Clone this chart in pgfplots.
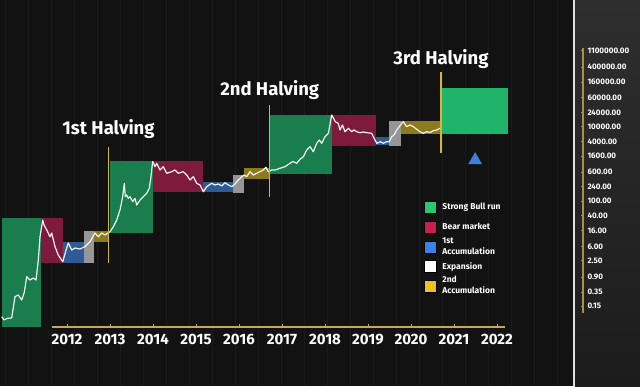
\documentclass[border=0pt]{standalone}
\usepackage{fontspec}
\setmainfont{Fira Sans}
\usepackage{pgfplots}
\usepackage{pgfplotstable}
\pgfplotsset{compat=1.18}

\definecolor{bgcol}{HTML}{121212}
\definecolor{gridcol}{HTML}{1B1B1B}
\definecolor{bullG}{HTML}{197D4E}
\definecolor{bullB}{HTML}{20B46B}
\definecolor{bearR}{HTML}{7E1A3B}
\definecolor{accB}{HTML}{2E5A96}
\definecolor{expG}{HTML}{969696}
\definecolor{accY}{HTML}{8C7A1C}
\definecolor{halv}{HTML}{D4B43A}
\definecolor{axcol}{HTML}{C9A94A}
\definecolor{tri}{HTML}{3E7FE0}
\definecolor{legG}{HTML}{27C86E}
\definecolor{legR}{HTML}{C81E50}
\definecolor{legB}{HTML}{3C82E6}
\definecolor{legW}{HTML}{FFFFFF}
\definecolor{legY}{HTML}{F0BE1E}
\definecolor{panTop}{HTML}{2E2E2E}
\definecolor{panBot}{HTML}{1C1C1C}

\pgfplotstableread{
x y
2010.521 0.077
2010.573 0.063
2010.66 0.07
2010.746 0.071
2010.82 0.265
2010.894 0.295
2010.971 0.216
2011.03 0.35
2011.083 0.92
2011.157 0.746
2011.231 0.845
2011.292 0.746
2011.344 2.58
2011.382 10.9
2011.443 30.8
2011.472 22.6
2011.533 16.6
2011.607 10.9
2011.645 13.8
2011.719 5.9
2011.793 3.5
2011.892 2.32
2011.982 5.43
2012.018 7.4
2012.094 4.8
2012.169 5.43
2012.281 5.1
2012.393 5.9
2012.506 8.0
2012.618 13.8
2012.692 10.9
2012.769 13.8
2012.843 12.2
2012.917 13.8
2012.955 14.9
2013.03 20.3
2013.106 30.8
2013.18 57.3
2013.24 131
2013.276 299
2013.3 131
2013.33 145
2013.366 118
2013.404 131
2013.465 96
2013.517 118
2013.555 78
2013.63 106
2013.703 131
2013.78 161
2013.838 220
2013.876 451
2013.9 838
2013.915 1157
2013.966 838
2014.004 1035
2014.079 682
2014.153 838
2014.229 557
2014.342 615
2014.416 682
2014.49 557
2014.602 615
2014.679 501
2014.753 367
2014.827 451
2014.903 299
2014.978 270
2015.052 178
2015.128 243
2015.24 299
2015.315 270
2015.39 287
2015.465 254
2015.54 311
2015.613 270
2015.69 243
2015.764 287
2015.838 367
2015.915 451
2015.966 501
2016.027 451
2016.10 615
2016.175 501
2016.25 557
2016.326 615
2016.4 682
2016.46 807
2016.51 615
2016.589 682
2016.663 682
2016.775 759
2016.888 838
2017.0 1035
2017.07 1157
2017.15 1035
2017.225 1325
2017.3 1557
2017.375 2360
2017.45 2900
2017.524 2120
2017.6 3570
2017.658 4390
2017.712 3570
2017.787 5380
2017.861 6640
2017.883 9050
2017.915 15100
2017.937 20650
2018.017 13650
2018.085 12300
2018.124 8150
2018.18 11100
2018.236 7330
2018.31 9050
2018.386 7330
2018.44 8200
2018.499 7330
2018.573 6890
2018.65 7200
2018.724 6890
2018.836 6640
2018.91 4390
2018.95 3570
2019.03 3950
2019.10 3570
2019.17 3950
2019.23 3950
2019.285 5380
2019.337 5980
2019.398 8150
2019.456 10000
2019.51 12300
2019.546 13650
2019.62 10000
2019.697 11100
2019.77 10000
2019.85 8500
2019.92 7330
2019.996 6640
2020.07 7330
2020.15 7000
2020.22 7800
2020.297 8150
2020.37 9050
2020.39 9000
}\price

\begin{document}
\begin{tikzpicture}
\useasboundingbox (0,0) rectangle (640pt,386pt);
\fill[bgcol] (0,0) rectangle (640pt,386pt);

\begin{axis}[
  at={(0,0)}, anchor=south west, scale only axis,
  width=640pt, height=386pt,
  xmin=2010.483, xmax=2024.865,
  ymode=log, ymin=1.047e-3, ymax=2.574e7,
  axis line style={draw=none},
  xtick={2010.609,2011.126,...,2024.5},
  xticklabels={}, ytick=\empty,
  major tick length=0pt,
  xmajorgrids, grid style={draw=gridcol, line width=0.6pt},
  legend style={at={(0.6625,0.4878)}, anchor=north west, draw=none, fill=none,
    inner sep=0pt, outer sep=0pt, row sep=0pt, column sep=6pt,
    nodes={inner sep=0pt, minimum height=19.6pt, text=white,
      font=\fontsize{8.5}{11}\selectfont\bfseries, align=left}},
  legend cell align=left,
  legend image code/.code={\fill[#1] (0pt,-6pt) rectangle (12pt,6pt);},
]
% boxes
\addplot[fill=bullG, draw=none, forget plot] coordinates {(2010.528,0.0406) (2011.404,0.0406) (2011.404,34.8) (2010.528,34.8)} -- cycle;
\addplot[fill=bearR, draw=none, forget plot] coordinates {(2011.404,2.14) (2011.899,2.14) (2011.899,34.8) (2011.404,34.8)} -- cycle;
\addplot[fill=accB, draw=none, forget plot] coordinates {(2011.899,2.14) (2012.371,2.14) (2012.371,7.87) (2011.899,7.87)} -- cycle;
\addplot[fill=expG, draw=none, forget plot] coordinates {(2012.371,2.14) (2012.596,2.14) (2012.596,15.6) (2012.371,15.6)} -- cycle;
\addplot[fill=accY, draw=none, forget plot] coordinates {(2012.596,7.87) (2012.933,7.87) (2012.933,15.6) (2012.596,15.6)} -- cycle;
\addplot[fill=bullG, draw=none, forget plot] coordinates {(2012.955,13.8) (2013.910,13.8) (2013.910,1157) (2012.955,1157)} -- cycle;
\addplot[fill=bearR, draw=none, forget plot] coordinates {(2013.910,171) (2015.052,171) (2015.052,1157) (2013.910,1157)} -- cycle;
\addplot[fill=accB, draw=none, forget plot] coordinates {(2015.052,171) (2015.712,171) (2015.712,331) (2015.052,331)} -- cycle;
\addplot[fill=expG, draw=none, forget plot] coordinates {(2015.712,169) (2015.966,169) (2015.966,501) (2015.712,501)} -- cycle;
\addplot[fill=accY, draw=none, forget plot] coordinates {(2015.966,384) (2016.539,384) (2016.539,759) (2015.966,759)} -- cycle;
\addplot[fill=bullG, draw=none, forget plot] coordinates {(2016.551,533) (2017.937,533) (2017.937,20650) (2016.551,20650)} -- cycle;
\addplot[fill=bearR, draw=none, forget plot] coordinates {(2017.937,3080) (2018.933,3080) (2018.933,20650) (2017.937,20650)} -- cycle;
\addplot[fill=accB, draw=none, forget plot] coordinates {(2018.933,3210) (2019.231,3210) (2019.231,5380) (2018.933,5380)} -- cycle;
\addplot[fill=expG, draw=none, forget plot] coordinates {(2019.231,3080) (2019.488,3080) (2019.488,14220) (2019.231,14220)} -- cycle;
\addplot[fill=accY, draw=none, forget plot] coordinates {(2019.488,6240) (2020.393,6240) (2020.393,14220) (2019.488,14220)} -- cycle;
\addplot[fill=bullB, draw=none, forget plot] coordinates {(2020.393,6240) (2021.906,6240) (2021.906,110200) (2020.393,110200)} -- cycle;
% price
\addplot[color=white!95!black, line width=1.2pt, line join=round, forget plot] table[x=x, y=y] {\price};
% halving lines
\addplot[halv, line width=1.5pt, forget plot] coordinates {(2012.921,2.18) (2012.921,2840)};
\addplot[halv, line width=1.5pt, forget plot] coordinates {(2016.544,128) (2016.544,38400)};
\addplot[halv, line width=1.5pt, forget plot] coordinates {(2020.393,1995) (2020.393,296500)};
% triangle
\addplot[only marks, mark=triangle*, mark size=7.5pt, color=tri, forget plot] coordinates {(2021.16,1260)};
% labels
\node[text=white, anchor=base, inner sep=0pt, font=\fontsize{18.5}{18.5}\selectfont\bfseries] at (axis cs:2012.921,6350) {1st Halving};
\node[text=white, anchor=base, inner sep=0pt, font=\fontsize{18.5}{18.5}\selectfont\bfseries] at (axis cs:2016.544,71300) {2nd Halving};
\node[text=white, anchor=base, inner sep=0pt, font=\fontsize{18.5}{18.5}\selectfont\bfseries] at (axis cs:2020.393,478600) {3rd Halving};
% legend
\addlegendimage{fill=legG}\addlegendentry{Strong Bull run}
\addlegendimage{fill=legR}\addlegendentry{Bear market}
\addlegendimage{fill=legB}\addlegendentry{1st\\Accumulation}
\addlegendimage{fill=legW}\addlegendentry{Expansion}
\addlegendimage{fill=legY}\addlegendentry{2nd\\Accumulation}
\end{axis}

% right panel
\shade[top color=panTop, bottom color=panBot] (575pt,0) rectangle (640pt,386pt);
\draw[color=white!88!black, line width=1.8pt] (574.2pt,0) -- (574.2pt,386pt);

% x axis
\begin{axis}[
  at={(52pt,59pt)}, anchor=south west, scale only axis,
  width=453pt, height=20pt,
  xmin=2011.651, xmax=2022.186, ymin=0, ymax=1,
  axis x line=bottom, axis y line=none,
  axis line style={-, draw=axcol, line width=1.3pt},
  xtick={2012,2013,2014,2015,2016,2017,2018,2019,2020,2021,2022},
  xticklabels={2012,2013,2014,2015,2016,2017,2018,2019,2020,2021,2022},
  xticklabel style={text=white, font=\fontsize{15}{15}\selectfont\bfseries, inner sep=0pt, anchor=north, yshift=-6.5pt},
  xtick style={draw=axcol, line width=1pt},
  tick align=inside, major tick length=3pt,
]
\end{axis}

% right y axis
\begin{axis}[
  at={(583pt,73pt)}, anchor=south east, scale only axis,
  width=20pt, height=265pt,
  ymode=log, ymin=0.0966, ymax=1.312e6,
  xmin=0, xmax=1,
  axis y line=right, axis x line=none,
  axis line style={-, draw=axcol!85!black, line width=1.2pt},
  ytick={0.15,0.35,0.9,2.5,6,16,40,100,240,600,1600,4000,10000,24000,60000,160000,400000,1100000},
  yticklabels={0.15,0.35,0.90,2.50,6.00,16.00,40.00,100.00,240.00,600.00,1600.00,4000.00,10000.00,24000.00,60000.00,160000.00,400000.00,1100000.00},
  minor ytick={},
  yticklabel style={text=white, font=\fontsize{8}{8}\selectfont\bfseries, inner sep=0pt, anchor=west, xshift=4.3pt},
  ytick style={draw=axcol!85!black, line width=0.8pt},
  tick align=inside, major tick length=2.5pt,
]
\end{axis}
\end{tikzpicture}
\end{document}
